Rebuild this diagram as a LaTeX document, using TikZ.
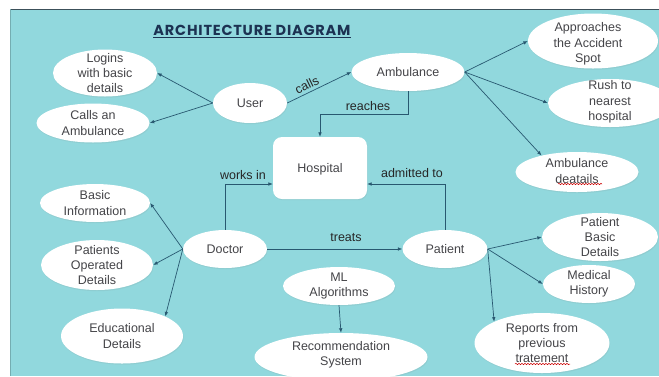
\documentclass[tikz,border=0pt]{standalone}
\usepackage{fontspec}
\setmainfont{Liberation Sans}
\newfontfamily\titlefont[LetterSpace=5.5]{Poppins}
\usetikzlibrary{shapes.geometric,arrows.meta,shadows,decorations.pathmorphing}
\definecolor{bgc}{RGB}{145,216,221}
\definecolor{linec}{RGB}{40,88,112}
\definecolor{textc}{RGB}{68,68,72}
\definecolor{titlec}{RGB}{28,50,82}
\definecolor{edgec}{RGB}{60,80,90}
\tikzset{
  ell/.style={ellipse, fill=white, draw=none, inner sep=0pt,
    drop shadow={opacity=0.12, shadow xshift=0.6pt, shadow yshift=-1.2pt}},
  txt/.style={align=center, text=textc, inner sep=0pt,
    font=\fontsize{12.5}{15.3}\selectfont},
  lbl/.style={text=black!85, inner sep=1pt,
    font=\fontsize{12.5}{15.3}\selectfont},
  conn/.style={draw=linec, line width=0.7pt, -{Latex[length=4.5pt,width=3.6pt]}},
  wavy/.style={draw=red!80!black, line width=0.5pt,
    decorate, decoration={snake, amplitude=0.7pt, segment length=3pt}},
}
\begin{document}
\begin{tikzpicture}[x=1pt,y=-1pt]
\useasboundingbox (0,0) rectangle (659,376);
\fill[white] (0,0) rectangle (659,376);
\fill[bgc] (10,9) rectangle (659,376);
\draw[edgec, line width=1pt] (10,9) -- (659,9);
\draw[bgc!80!black, line width=0.6pt] (10.3,9) -- (10.3,376);

% title
\node[font=\titlefont\bfseries\fontsize{14.5}{17}\selectfont, text=titlec,
  inner sep=0pt, anchor=base] (title) at (252,35) {ARCHITECTURE DIAGRAM};
\draw[titlec, line width=1pt] ([yshift=-2.2pt]title.base west) -- ([yshift=-2.2pt]title.base east);

% ellipses
\node[ell, minimum width=104pt, minimum height=47pt] (login) at (105,73) {};
\node[ell, minimum width=113pt, minimum height=39pt] (callamb) at (93,123) {};
\node[ell, minimum width=74pt, minimum height=40pt] (user) at (250,103) {};
\node[ell, minimum width=113pt, minimum height=38pt] (amb) at (408,72) {};
\node[ell, minimum width=130pt, minimum height=55pt] (appr) at (593,41) {};
\node[ell, minimum width=124pt, minimum height=48pt] (rush) at (610,103) {};
\node[ell, minimum width=123pt, minimum height=40pt] (deat) at (577,172) {};
\node[ell, minimum width=110pt, minimum height=38pt] (basic) at (95,203) {};
\node[ell, minimum width=84pt, minimum height=38pt] (doc) at (225,249) {};
\node[ell, minimum width=112pt, minimum height=50pt] (ops) at (97,265) {};
\node[ell, minimum width=122pt, minimum height=55pt] (edu) at (122,336) {};
\node[ell, minimum width=112pt, minimum height=38pt] (ml) at (339,286) {};
\node[ell, minimum width=173pt, minimum height=48pt] (rec) at (341,357) {};
\node[ell, minimum width=85pt, minimum height=38pt] (pat) at (445,249) {};
\node[ell, minimum width=116pt, minimum height=48pt] (pbd) at (600,237) {};
\node[ell, minimum width=92pt, minimum height=38pt] (mh) at (589,284) {};
\node[ell, minimum width=135pt, minimum height=60pt] (rep) at (542,343) {};

% hospital
\node[rectangle, rounded corners=9pt, fill=white, minimum width=94pt, minimum height=62pt,
  drop shadow={opacity=0.12, shadow xshift=0.6pt, shadow yshift=-1.2pt}] (hosp) at (320,168) {};

% texts
\node[txt] (login-t) at (105,73) {Logins\\with basic\\details};
\node[txt] (callamb-t) at (93,123) {Calls an\\Ambulance};
\node[txt] (user-t) at (250,103) {User};
\node[txt] (amb-t) at (408,72) {Ambulance};
\node[txt] (appr-t) at (588,44) {Approaches\\the Accident\\Spot};
\node[txt] (rush-t) at (610,102) {Rush to\\nearest\\hospital};
\node[txt] (deat-t) at (577,171) {Ambulance\\deatails};
\node[txt] (basic-t) at (95,203) {Basic\\Information};
\node[txt] (doc-t) at (225,249) {Doctor};
\node[txt] (ops-t) at (97,265) {Patients\\Operated\\Details};
\node[txt] (edu-t) at (122,336) {Educational\\Details};
\node[txt] (ml-t) at (339,286) {ML\\Algorithms};
\node[txt] (rec-t) at (341,355) {Recommendation\\System};
\node[txt] (pat-t) at (445,249) {Patient};
\node[txt] (pbd-t) at (600,237) {Patient\\Basic\\Details};
\node[txt] (mh-t) at (589,284) {Medical\\History};
\node[txt] (rep-t) at (542,343) {Reports from\\previous\\tratement};
\node[txt] (hosp-t) at (320,169) {Hospital};

% spell-check squiggles
\coordinate (sq1a) at (558,184); \coordinate (sq1b) at (602,184);
\coordinate (sq2a) at (515,364); \coordinate (sq2b) at (570,364);
\draw[wavy] (sq1a) -- (sq1b);
\draw[wavy] (sq2a) -- (sq2b);

% connectors
\draw[conn] (user.west) -- (login.east);
\draw[conn] (user.west) -- (callamb.east);
\draw[conn] (user.east) -- node[pos=0.36, above=2pt, sloped, lbl] (calls-l) {calls} (amb.west);
\draw[conn] (amb.east) -- (appr.west);
\draw[conn] (amb.east) -- (rush.west);
\draw[conn] (amb.east) -- (deat.155);
\draw[conn] (amb.south) -- ++(0,23) -| (hosp.north);
\node[lbl] (reaches-l) at (368,106) {reaches};
\draw[conn] (doc.north) |- ([yshift=-16pt]hosp.west);
\node[lbl] (works-l) at (243,175) {works in};
\draw[conn] (pat.north) |- ([yshift=-16pt]hosp.east);
\node[lbl] (adm-l) at (412,173) {admitted to};
\draw[conn] (doc.east) -- (pat.west);
\node[lbl] (treats-l) at (346,238) {treats};
\draw[conn] (doc.west) -- (basic.east);
\draw[conn] (doc.west) -- (ops.east);
\draw[conn] (doc.west) -- (edu.north east);
\draw[conn] (ml.south) -- (rec.north);
\draw[conn] (pat.east) -- (pbd.west);
\draw[conn] (pat.east) -- (mh.west);
\draw[conn] (pat.east) -- (rep.north west);
\end{tikzpicture}
\end{document}
